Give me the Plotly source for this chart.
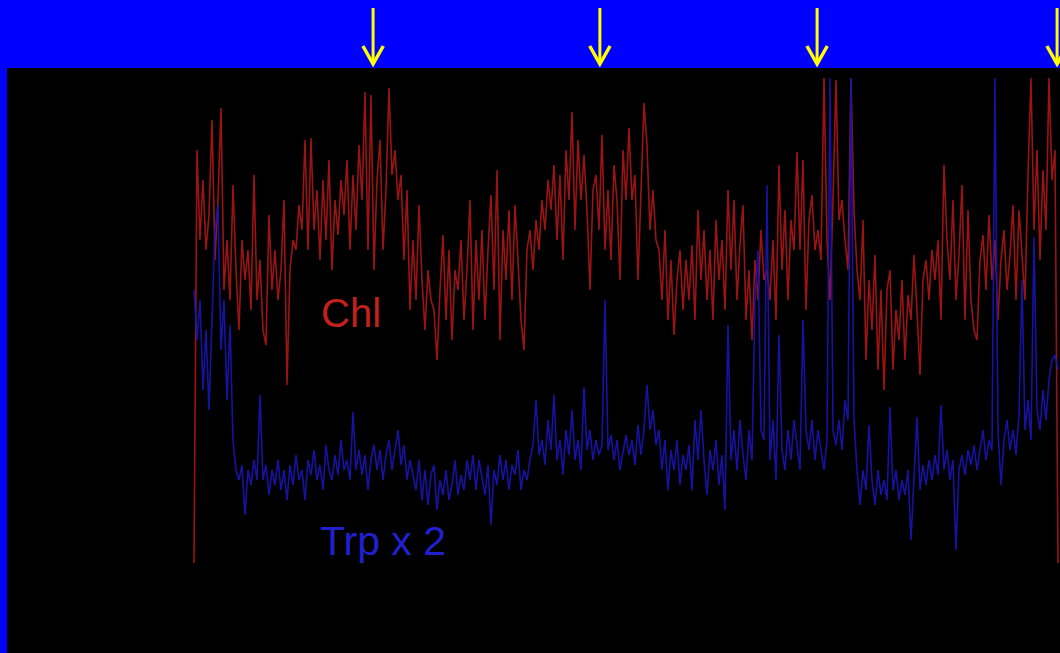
import numpy as np
import plotly.graph_objects as go

# Chlorophyll fluorescence (arbitrary units), one sample per time step
chl = [
    37, 450, 360, 420, 350, 385, 480, 340, 400, 492,
    310, 360, 300, 415, 330, 270, 360, 320, 350, 290,
    425, 300, 340, 270, 255, 385, 310, 350, 300, 330,
    400, 215, 330, 360, 350, 395, 370, 460, 350, 462,
    370, 410, 340, 420, 360, 440, 330, 400, 365, 420,
    385, 440, 350, 425, 370, 455, 400, 508, 350, 505,
    330, 420, 460, 350, 410, 512, 425, 450, 400, 425,
    340, 410, 290, 360, 300, 395, 320, 270, 330, 300,
    290, 240, 310, 365, 280, 350, 260, 330, 310, 360,
    280, 330, 400, 270, 360, 300, 370, 280, 350, 405,
    310, 430, 260, 370, 320, 390, 300, 395, 340, 280,
    250, 350, 370, 330, 380, 350, 400, 370, 420, 390,
    435, 360, 425, 340, 450, 400, 488, 370, 460, 400,
    445, 390, 310, 410, 425, 370, 465, 350, 410, 340,
    435, 400, 320, 450, 400, 472, 400, 425, 320, 400,
    497, 455, 370, 410, 360, 350, 300, 370, 280, 340,
    265, 320, 350, 290, 340, 300, 355, 280, 390, 320,
    370, 300, 350, 280, 380, 320, 360, 290, 410, 330,
    400, 300, 355, 395, 280, 330, 260, 340, 300, 370,
    320, 330, 300, 360, 280, 435, 330, 390, 300, 380,
    350, 448, 350, 440, 290, 380, 405, 350, 370, 340,
    522, 360, 300, 400, 520, 380, 400, 360, 330, 522,
    390, 330, 300, 380, 240, 320, 270, 345, 230, 310,
    210, 310, 330, 230, 290, 260, 320, 240, 305, 280,
    345, 290, 225, 320, 340, 300, 350, 320, 360, 280,
    435, 360, 320, 400, 300, 345, 415, 280, 390, 300,
    270, 260, 340, 365, 310, 385, 320, 360, 280, 340,
    370, 310, 345, 395, 300, 390, 340, 300, 425, 522,
    370, 450, 340, 430, 370, 522, 420, 450, 37,
]

# Tryptophan fluorescence x 2 (arbitrary units)
trp = [
    310, 260, 300, 210, 270, 190, 280, 370, 395, 250,
    300, 200, 275, 160, 130, 120, 135, 85, 130, 115,
    140, 120, 205, 120, 135, 105, 130, 115, 140, 110,
    130, 100, 135, 115, 145, 120, 130, 100, 140, 125,
    150, 120, 135, 110, 155, 130, 120, 145, 125, 160,
    130, 140, 120, 188, 130, 150, 125, 145, 110, 140,
    155, 130, 150, 120, 145, 160, 130, 150, 170, 135,
    155, 120, 140, 125, 110, 140, 100, 130, 95, 125,
    135, 90, 120, 105, 130, 100, 115, 140, 105, 125,
    110, 140, 120, 145, 110, 140, 120, 105, 135, 75,
    130, 115, 145, 120, 140, 110, 135, 125, 150, 110,
    130, 120, 140, 155, 200, 145, 160, 135, 180, 150,
    205, 140, 160, 125, 170, 145, 190, 140, 160, 130,
    213, 150, 170, 140, 160, 145, 155, 300, 150, 165,
    140, 160, 130, 150, 165, 145, 160, 135, 175, 145,
    170, 215, 170, 190, 155, 170, 130, 160, 110, 150,
    130, 160, 115, 145, 130, 155, 110, 180, 140, 190,
    140, 105, 150, 130, 160, 115, 145, 90, 275, 140,
    170, 130, 180, 145, 120, 170, 140, 300, 350, 170,
    160, 415, 140, 180, 120, 265, 150, 130, 170, 140,
    180, 155, 130, 280, 170, 150, 180, 140, 170, 150,
    130, 160, 522, 170, 155, 180, 150, 200, 180, 522,
    180, 130, 95, 130, 110, 175, 120, 95, 130, 105,
    120, 100, 193, 110, 130, 100, 120, 105, 130, 60,
    120, 183, 110, 135, 115, 140, 120, 145, 125, 195,
    130, 150, 120, 140, 50, 130, 145, 125, 150, 135,
    155, 130, 150, 170, 140, 160, 150, 522, 170, 115,
    160, 180, 150, 170, 145, 185, 320, 170, 200, 160,
    363, 190, 170, 210, 180, 220, 240, 245, 230,
]

t = np.arange(len(chl))          # sample index (time)
arrow_times = [59.7, 135.3, 207.7, 287.7]   # additions marked by arrows

x_range = [-62.33, 288.67]
y_range = [-53, 532]

fig = go.Figure()
fig.add_trace(go.Scatter(x=t, y=chl, mode="lines",
                         line=dict(color="#A81616", width=1.6),
                         opacity=0.92, hoverinfo="skip"))
fig.add_trace(go.Scatter(x=t, y=trp, mode="lines",
                         line=dict(color="#1A14B0", width=1.6),
                         opacity=0.92, hoverinfo="skip"))

fig.add_annotation(x=52.3, y=287, xref="x", yref="y", text="Chl",
                   showarrow=False,
                   font=dict(family="Liberation Sans, Arial", size=40, color="#C4201C"))
fig.add_annotation(x=63.0, y=59, xref="x", yref="y", text="Trp x 2",
                   showarrow=False,
                   font=dict(family="Liberation Sans, Arial", size=41, color="#2020D0"))

def py(pix):
    # paper y for a pixel row above the plot area (plot top at 68, height 585)
    return 1 + (68 - pix) / 585.0

for at in arrow_times:
    fig.add_shape(type="line", xref="x", yref="paper",
                  x0=at, x1=at, y0=py(8), y1=py(64),
                  line=dict(color="#FFFF00", width=3))
    fig.add_shape(type="path", xref="x", yref="paper",
                  path=f"M {at-3.4},{py(46)} L {at},{py(64)} L {at+3.4},{py(46)}",
                  line=dict(color="#FFFF00", width=3.5))

fig.update_layout(
    width=1060, height=653,
    margin=dict(l=7, r=0, t=68, b=0, autoexpand=False),
    paper_bgcolor="#0000FF", plot_bgcolor="#000000",
    showlegend=False,
    xaxis=dict(range=x_range, visible=False, showgrid=False, zeroline=False),
    yaxis=dict(range=y_range, visible=False, showgrid=False, zeroline=False),
)

fig.write_html("out.html")
